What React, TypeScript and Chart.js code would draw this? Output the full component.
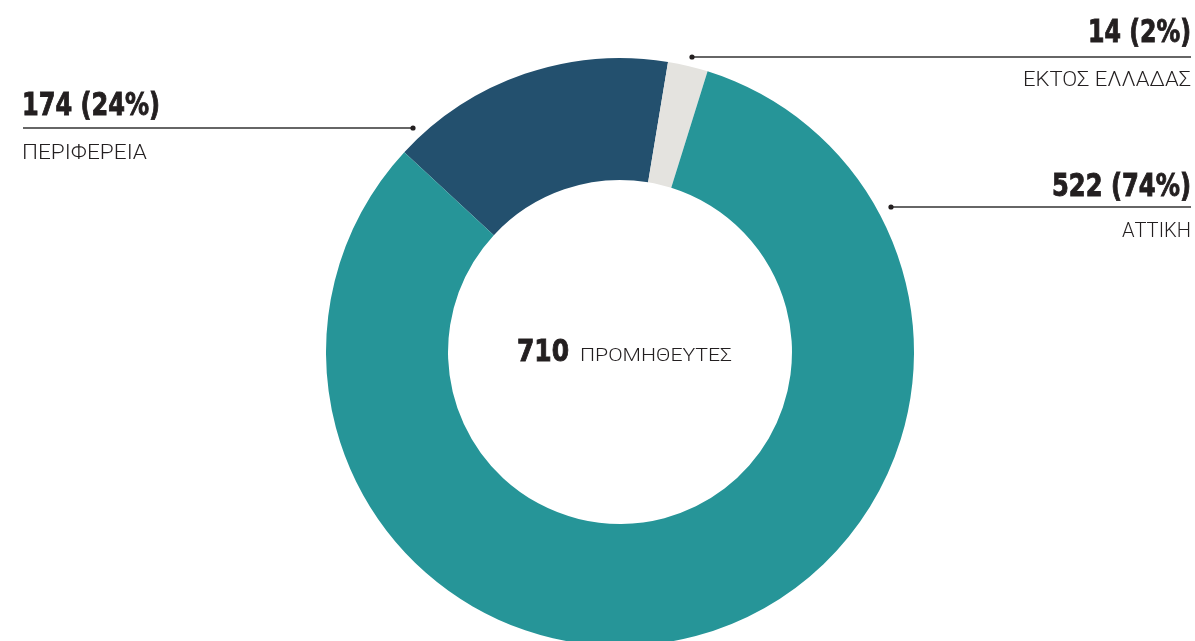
import React, { useEffect, useRef } from "react";
import { Chart, registerables } from "chart.js";

Chart.register(...registerables);

// Categories in drawing order (clockwise from the start angle)
const categories = ["ΠΕΡΙΦΕΡΕΙΑ", "ΕΚΤΟΣ ΕΛΛΑΔΑΣ", "ΑΤΤΙΚΗ"];
const counts = [174, 14, 522];
const percents = [24, 2, 74];
// slice sizes as they are drawn in the reference picture
const arcValues = [100, 14, 522];
const colors = ["#23506e", "#e4e3df", "#269598"];
const totalCount = 710;
const totalLabel = "ΠΡΟΜΗΘΕΥΤΕΣ";

const W = 1195;
const H = 641;
const CANVAS_H = 704;

const boldFont = "'DejaVu Sans Condensed', 'DejaVu Sans', sans-serif";
const lightFont = "Roboto, 'Noto Sans', sans-serif";
const ink = "#231f20";

export default function App() {
  const ref = useRef<HTMLCanvasElement | null>(null);

  useEffect(() => {
    document.body.style.margin = "0";
    const canvas = ref.current;
    if (!canvas) return;
    const chart = new Chart(canvas, {
      type: "doughnut",
      data: {
        labels: categories,
        datasets: [
          {
            data: arcValues,
            backgroundColor: colors,
            borderWidth: 0,
            hoverOffset: 0,
          },
        ],
      },
      options: {
        responsive: false,
        animation: false,
        devicePixelRatio: 1,
        rotation: -47.2,
        cutout: "58.5%",
        layout: { padding: { left: 326, right: 281, top: 58, bottom: 58 } },
        plugins: {
          legend: { display: false },
          tooltip: { enabled: false },
        },
        events: [],
      },
    });
    return () => chart.destroy();
  }, []);

  const labelFor = (i: number) => `${counts[i]} (${percents[i]}%)`;
  const boldProps = {
    fill: ink,
    stroke: ink,
    strokeWidth: 0.9,
    fontFamily: boldFont,
    fontWeight: "bold" as const,
    fontSize: 32,
    lengthAdjust: "spacingAndGlyphs",
  };
  const lightProps = {
    fill: ink,
    fontFamily: lightFont,
    fontWeight: 300,
    fontSize: 21,
    lengthAdjust: "spacingAndGlyphs",
  };

  return (
    <div style={{ position: "absolute", left: 0, top: 0, width: W, height: H, overflow: "hidden", background: "#fff" }}>
      <canvas ref={ref} width={W} height={CANVAS_H} style={{ position: "absolute", left: 0, top: 0, width: W, height: CANVAS_H }} />
      <svg width={W} height={H} style={{ position: "absolute", left: 0, top: 0 }}>
        {/* top right: ΕΚΤΟΣ ΕΛΛΑΔΑΣ */}
        <text x={1088} y={42} textLength={103} {...boldProps}>{labelFor(1)}</text>
        <line x1={692} y1={57} x2={1191} y2={57} stroke="#333" strokeWidth={1.4} />
        <circle cx={692} cy={57} r={2.6} fill={ink} />
        <text x={1023} y={86} textLength={168} {...lightProps}>{categories[1]}</text>

        {/* right: ΑΤΤΙΚΗ */}
        <text x={1052} y={196} textLength={139} {...boldProps}>{labelFor(2)}</text>
        <line x1={891} y1={207} x2={1191} y2={207} stroke="#333" strokeWidth={1.4} />
        <circle cx={891} cy={207} r={2.6} fill={ink} />
        <text x={1122} y={237} textLength={69} {...lightProps}>{categories[2]}</text>

        {/* left: ΠΕΡΙΦΕΡΕΙΑ */}
        <text x={22} y={115} textLength={138} {...boldProps}>{labelFor(0)}</text>
        <line x1={23} y1={128} x2={413} y2={128} stroke="#333" strokeWidth={1.4} />
        <circle cx={413} cy={128} r={2.6} fill={ink} />
        <text x={22} y={159} textLength={125} {...lightProps}>{categories[0]}</text>

        {/* center */}
        <text x={517} y={361} textLength={52} {...boldProps} fontSize={31}>{totalCount}</text>
        <text x={580} y={361} textLength={152} {...lightProps} fontSize={18}>{totalLabel}</text>
      </svg>
    </div>
  );
}
